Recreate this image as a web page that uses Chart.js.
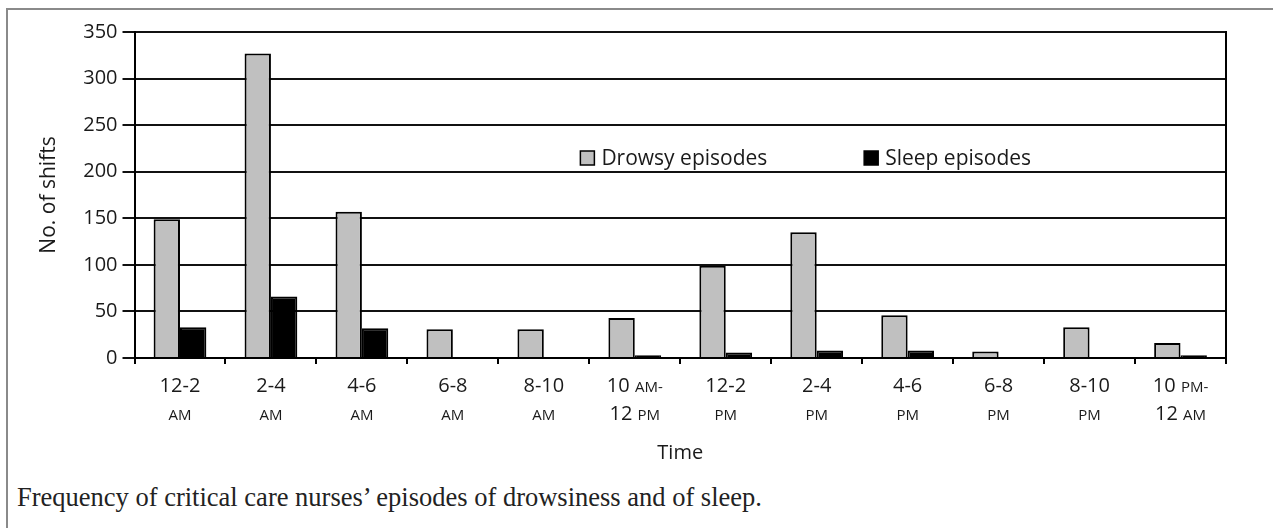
<!DOCTYPE html>
<html>
<head>
<meta charset="utf-8">
<script src="https://cdn.jsdelivr.net/npm/chart.js@4/dist/chart.umd.min.js"></script>
<style>
  html, body { margin: 0; padding: 0; background: #fff; }
  body { width: 1273px; height: 528px; position: relative; overflow: hidden; }
  #frame { position: absolute; left: 6px; top: 8px; right: -10px; bottom: -10px;
           border-top: 2px solid #8a8a8a; border-left: 2px solid #8a8a8a; }
  #c { position: absolute; left: 0; top: 0; }
  #caption { position: absolute; left: 17px; top: 482px; font-family: "Liberation Serif", "Times New Roman", serif;
             font-size: 26.5px; color: #222; white-space: nowrap; }
</style>
</head>
<body>
<div id="frame"></div>
<canvas id="c" width="1273" height="475"></canvas>
<div id="caption">Frequency of critical care nurses’ episodes of drowsiness and of sleep.</div>
<script>
// ---- data ----
const categories = ['12-2 AM','2-4 AM','4-6 AM','6-8 AM','8-10 AM','10 AM-12 PM','12-2 PM','2-4 PM','4-6 PM','6-8 PM','8-10 PM','10 PM-12 AM'];
const tickLine1 = ['12-2','2-4','4-6','6-8','8-10','10 AM-','12-2','2-4','4-6','6-8','8-10','10 PM-'];
const tickLine2 = ['AM','AM','AM','AM','AM','12 PM','PM','PM','PM','PM','PM','12 AM'];
const drowsy = [149, 327, 157, 31, 31, 43, 99, 135, 46, 7, 33, 16];
const sleep  = [33, 66, 32, 0, 0, 3, 6, 8, 8, 0, 0, 3];
const yTicks = [0, 50, 100, 150, 200, 250, 300, 350];
const seriesNames = ['Drowsy episodes', 'Sleep episodes'];
const xTitle = 'Time';
const yTitle = 'No. of shifts';

const FONT = '"Open Sans", "DejaVu Sans", sans-serif';
const INK = '#1a1a1a';

// draw two-line category labels with small-caps AM/PM
const labelPlugin = {
  id: 'labels2',
  afterDraw(chart) {
    const ctx = chart.ctx, xs = chart.scales.x;
    const big = 20, small = 15;
    ctx.save();
    ctx.fillStyle = INK;
    ctx.textBaseline = 'alphabetic';
    const drawLine = (text, cx, baseline) => {
      const tokens = text.split(/(\s+)/).filter(t => t.length);
      const parts = tokens.map(t => {
        const isSmall = /^(AM|PM)-?$/.test(t);
        const f = (isSmall ? small : big) + 'px ' + FONT;
        ctx.font = f;
        return { t, f, w: ctx.measureText(t).width };
      });
      const total = parts.reduce((s, p) => s + p.w, 0);
      let x = cx - total / 2;
      parts.forEach(p => { ctx.font = p.f; ctx.textAlign = 'left'; ctx.fillText(p.t, x, baseline); x += p.w; });
    };
    categories.forEach((c, i) => {
      const cx = xs.getPixelForValue(i);
      drawLine(tickLine1[i], cx, xs.top + 34);
      drawLine(tickLine2[i], cx, xs.top + 62);
    });
    ctx.restore();
  }
};

const legendPlugin = {
  id: 'inLegend',
  afterDraw(chart) {
    const ctx = chart.ctx, a = chart.chartArea;
    const items = [
      { x: a.left + (a.right - a.left) * 0.4085, ds: chart.data.datasets[0] },
      { x: a.left + (a.right - a.left) * 0.6685, ds: chart.data.datasets[1] }
    ];
    const ly = a.top + 126;
    ctx.save();
    items.forEach(it => {
      ctx.fillStyle = it.ds.backgroundColor;
      ctx.fillRect(it.x, ly - 7, 14, 14);
      ctx.strokeStyle = '#000';
      ctx.lineWidth = 1.5;
      ctx.strokeRect(it.x, ly - 7, 14, 14);
      ctx.fillStyle = INK;
      ctx.font = '21px ' + FONT;
      ctx.textAlign = 'left';
      ctx.textBaseline = 'middle';
      ctx.fillText(it.ds.label, it.x + 21, ly + 1);
    });
    ctx.restore();
  }
};

new Chart(document.getElementById('c'), {
  type: 'bar',
  data: {
    labels: categories,
    datasets: [
      { label: seriesNames[0], data: drowsy, backgroundColor: '#c0c0c0', borderColor: '#000', borderWidth: 2,
        borderSkipped: 'start', categoryPercentage: 0.58, barPercentage: 1.0 },
      { label: seriesNames[1], data: sleep, backgroundColor: '#000', borderColor: '#000', borderWidth: 2,
        borderSkipped: 'start', categoryPercentage: 0.58, barPercentage: 1.0 }
    ]
  },
  options: {
    responsive: false,
    animation: false,
    devicePixelRatio: 1,
    layout: { padding: { top: 32, right: 39, left: 36, bottom: 10 } },
    plugins: { legend: { display: false }, tooltip: { enabled: false } },
    scales: {
      x: {
        offset: true,
        grid: { offset: true, drawOnChartArea: false, drawTicks: true, tickLength: 6, color: '#000', lineWidth: 2 },
        border: { display: true, color: '#000', width: 2 },
        ticks: { color: 'rgba(0,0,0,0)', font: { size: 20, family: FONT }, padding: 4,
                 callback: (v, i) => [tickLine1[i], tickLine2[i]] },
        title: { display: true, text: xTitle, color: INK, font: { size: 20, family: FONT }, padding: { top: 21, bottom: 0 } }
      },
      y: {
        min: 0, max: 350,
        afterBuildTicks: s => { s.ticks = yTicks.map(v => ({ value: v })); },
        grid: { color: '#111', lineWidth: 2, tickLength: 12 },
        border: { display: true, color: '#000', width: 2 },
        ticks: { color: INK, font: { size: 20, family: FONT }, padding: 5 },
        title: { display: true, text: yTitle, color: INK, font: { size: 21, family: FONT }, padding: { top: 0, bottom: 17 } }
      },
      y2: {
        position: 'right', min: 0, max: 350,
        grid: { display: false },
        border: { display: true, color: '#000', width: 2 },
        ticks: { display: false }
      }
    }
  },
  plugins: [labelPlugin, legendPlugin]
});
</script>
</body>
</html>
